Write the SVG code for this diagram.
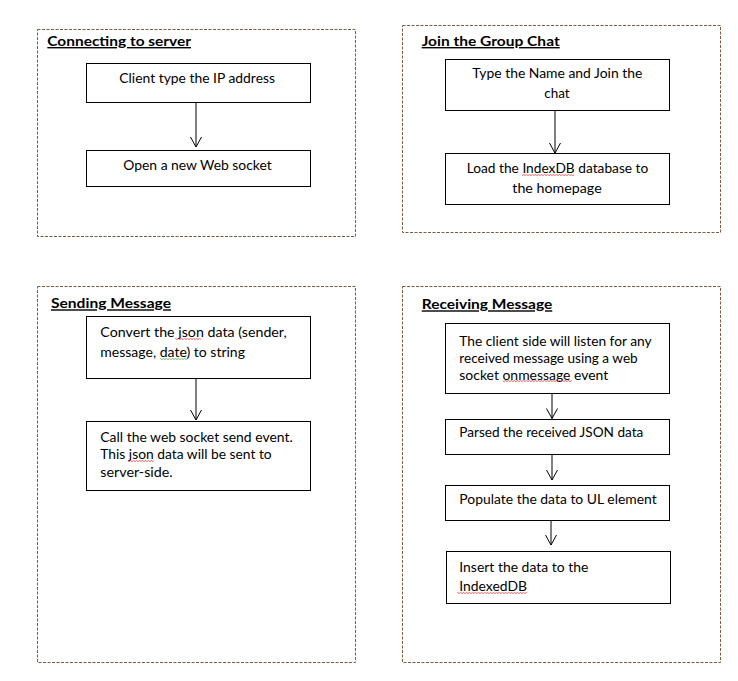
<svg xmlns="http://www.w3.org/2000/svg" width="738" height="681" viewBox="0 0 738 681">
<defs>
<style>
.panel{fill:none;stroke:#7f5a3c;stroke-width:1;stroke-dasharray:3 1.5}
.box{fill:#fff;stroke:#000;stroke-width:1}
.t{font-family:Lato,"Liberation Sans",sans-serif;font-size:13px;fill:#000}
.h{font-size:14px;font-weight:bold;text-decoration:underline}
.c{stroke:#000;stroke-width:1;fill:none}
</style>
<marker id="arr" markerUnits="userSpaceOnUse" markerWidth="14" markerHeight="14" viewBox="-12 -7 14 14" refX="0" refY="0" orient="auto">
<path d="M-10,-5.5 L0,0 L-10,5.5" fill="none" stroke="#000" stroke-width="1"/>
</marker>
<pattern id="wr" width="3" height="2" patternUnits="userSpaceOnUse">
<path d="M0,1.6 L1.5,0.4 L3,1.6" fill="none" stroke="#e02020" stroke-width="0.7"/>
</pattern>
<pattern id="wg" width="3" height="2" patternUnits="userSpaceOnUse">
<path d="M0,1.6 L1.5,0.4 L3,1.6" fill="none" stroke="#30a030" stroke-width="0.7"/>
</pattern>
</defs>
<rect width="738" height="681" fill="#fff"/>

<g id="panel-connecting">
<rect class="panel" x="37.5" y="29.5" width="318" height="207"/>
<text class="t h" x="47.3" y="46" textLength="143.7" lengthAdjust="spacingAndGlyphs">Connecting to server</text>
</g>
<g id="panel-join">
<rect class="panel" x="402.5" y="25.5" width="318" height="207"/>
<text class="t h" x="421.7" y="46" textLength="138" lengthAdjust="spacingAndGlyphs">Join the Group Chat</text>
</g>
<g id="panel-sending">
<rect class="panel" x="37.5" y="286.5" width="318" height="376"/>
<text class="t h" x="51" y="308.3" textLength="120" lengthAdjust="spacingAndGlyphs">Sending Message</text>
</g>
<g id="panel-receiving">
<rect class="panel" x="402.5" y="286.5" width="318" height="376"/>
<text class="t h" x="421.7" y="309.3" textLength="130.6" lengthAdjust="spacingAndGlyphs">Receiving Message</text>
</g>

<g id="connectors">
<line class="c" x1="196" y1="102.5" x2="196" y2="147" marker-end="url(#arr)"/>
<line class="c" x1="555" y1="110.5" x2="555" y2="153" marker-end="url(#arr)"/>
<line class="c" x1="196" y1="378.5" x2="196" y2="420" marker-end="url(#arr)"/>
<line class="c" x1="552" y1="393.5" x2="552" y2="418.5" marker-end="url(#arr)"/>
<line class="c" x1="552" y1="454.5" x2="552" y2="480" marker-end="url(#arr)"/>
<line class="c" x1="551" y1="520.5" x2="551" y2="545" marker-end="url(#arr)"/>
</g>

<g id="node-client-ip">
<rect class="box" x="86.5" y="63.5" width="224" height="39"/>
<text class="t" x="119.3" y="83.3" textLength="155.7" lengthAdjust="spacingAndGlyphs">Client type the IP address</text>
</g>
<g id="node-open-socket">
<rect class="box" x="86.5" y="150.5" width="224" height="36"/>
<text class="t" x="123.3" y="170" textLength="148.4" lengthAdjust="spacingAndGlyphs">Open a new Web socket</text>
</g>
<g id="node-type-name">
<rect class="box" x="445.5" y="59.5" width="224" height="51"/>
<text class="t" x="472.3" y="78.3" textLength="170" lengthAdjust="spacingAndGlyphs">Type the Name and Join the</text>
<text class="t" x="544.3" y="98.3" textLength="25.4" lengthAdjust="spacingAndGlyphs">chat</text>
</g>
<g id="node-load-indexdb">
<rect class="box" x="445.5" y="153.5" width="224" height="51"/>
<text class="t" x="466.7" y="173.3" textLength="181.6" lengthAdjust="spacingAndGlyphs">Load the IndexDB database to</text>
<text class="t" x="512.3" y="193.3" textLength="89.4" lengthAdjust="spacingAndGlyphs">the homepage</text>
<rect x="522" y="174" width="52" height="2" fill="url(#wr)"/>
</g>
<g id="node-convert-json">
<rect class="box" x="86.5" y="316.5" width="224" height="62"/>
<text class="t" x="100.3" y="337.3" textLength="186.4" lengthAdjust="spacingAndGlyphs">Convert the json data (sender,</text>
<text class="t" x="100.3" y="356.7" textLength="144.7" lengthAdjust="spacingAndGlyphs">message, date) to string</text>
<rect x="175" y="338" width="26" height="2" fill="url(#wr)"/>
<rect x="160" y="358" width="27" height="2" fill="url(#wg)"/>
</g>
<g id="node-send-event">
<rect class="box" x="86.5" y="421.5" width="224" height="69"/>
<text class="t" x="100.3" y="441.7" textLength="192.4" lengthAdjust="spacingAndGlyphs">Call the web socket send event.</text>
<text class="t" x="100.3" y="459.3" textLength="171.4" lengthAdjust="spacingAndGlyphs">This json data will be sent to</text>
<text class="t" x="100.3" y="476.7" textLength="72.4" lengthAdjust="spacingAndGlyphs">server-side.</text>
<rect x="128" y="460" width="26" height="2" fill="url(#wr)"/>
</g>
<g id="node-listen">
<rect class="box" x="445.5" y="323.5" width="224" height="70"/>
<text class="t" x="459.3" y="345.7" textLength="192.4" lengthAdjust="spacingAndGlyphs">The client side will listen for any</text>
<text class="t" x="459.3" y="363.3" textLength="178.4" lengthAdjust="spacingAndGlyphs">received message using a web</text>
<text class="t" x="459.3" y="380" textLength="149" lengthAdjust="spacingAndGlyphs">socket onmessage event</text>
<rect x="503" y="380" width="69" height="2" fill="url(#wr)"/>
</g>
<g id="node-parse">
<rect class="box" x="445.5" y="419.5" width="224" height="35"/>
<text class="t" x="459.3" y="436.7" textLength="184" lengthAdjust="spacingAndGlyphs">Parsed the received JSON data</text>
</g>
<g id="node-populate">
<rect class="box" x="445.5" y="485.5" width="224" height="35"/>
<text class="t" x="459.3" y="504" textLength="197.4" lengthAdjust="spacingAndGlyphs">Populate the data to UL element</text>
</g>
<g id="node-insert">
<rect class="box" x="446.5" y="551.5" width="224" height="52"/>
<text class="t" x="459.3" y="571.7" textLength="129" lengthAdjust="spacingAndGlyphs">Insert the data to the</text>
<text class="t" x="459.3" y="590.7" textLength="67.7" lengthAdjust="spacingAndGlyphs">IndexedDB</text>
<rect x="457" y="592" width="70" height="2" fill="url(#wr)"/>
</g>
</svg>
